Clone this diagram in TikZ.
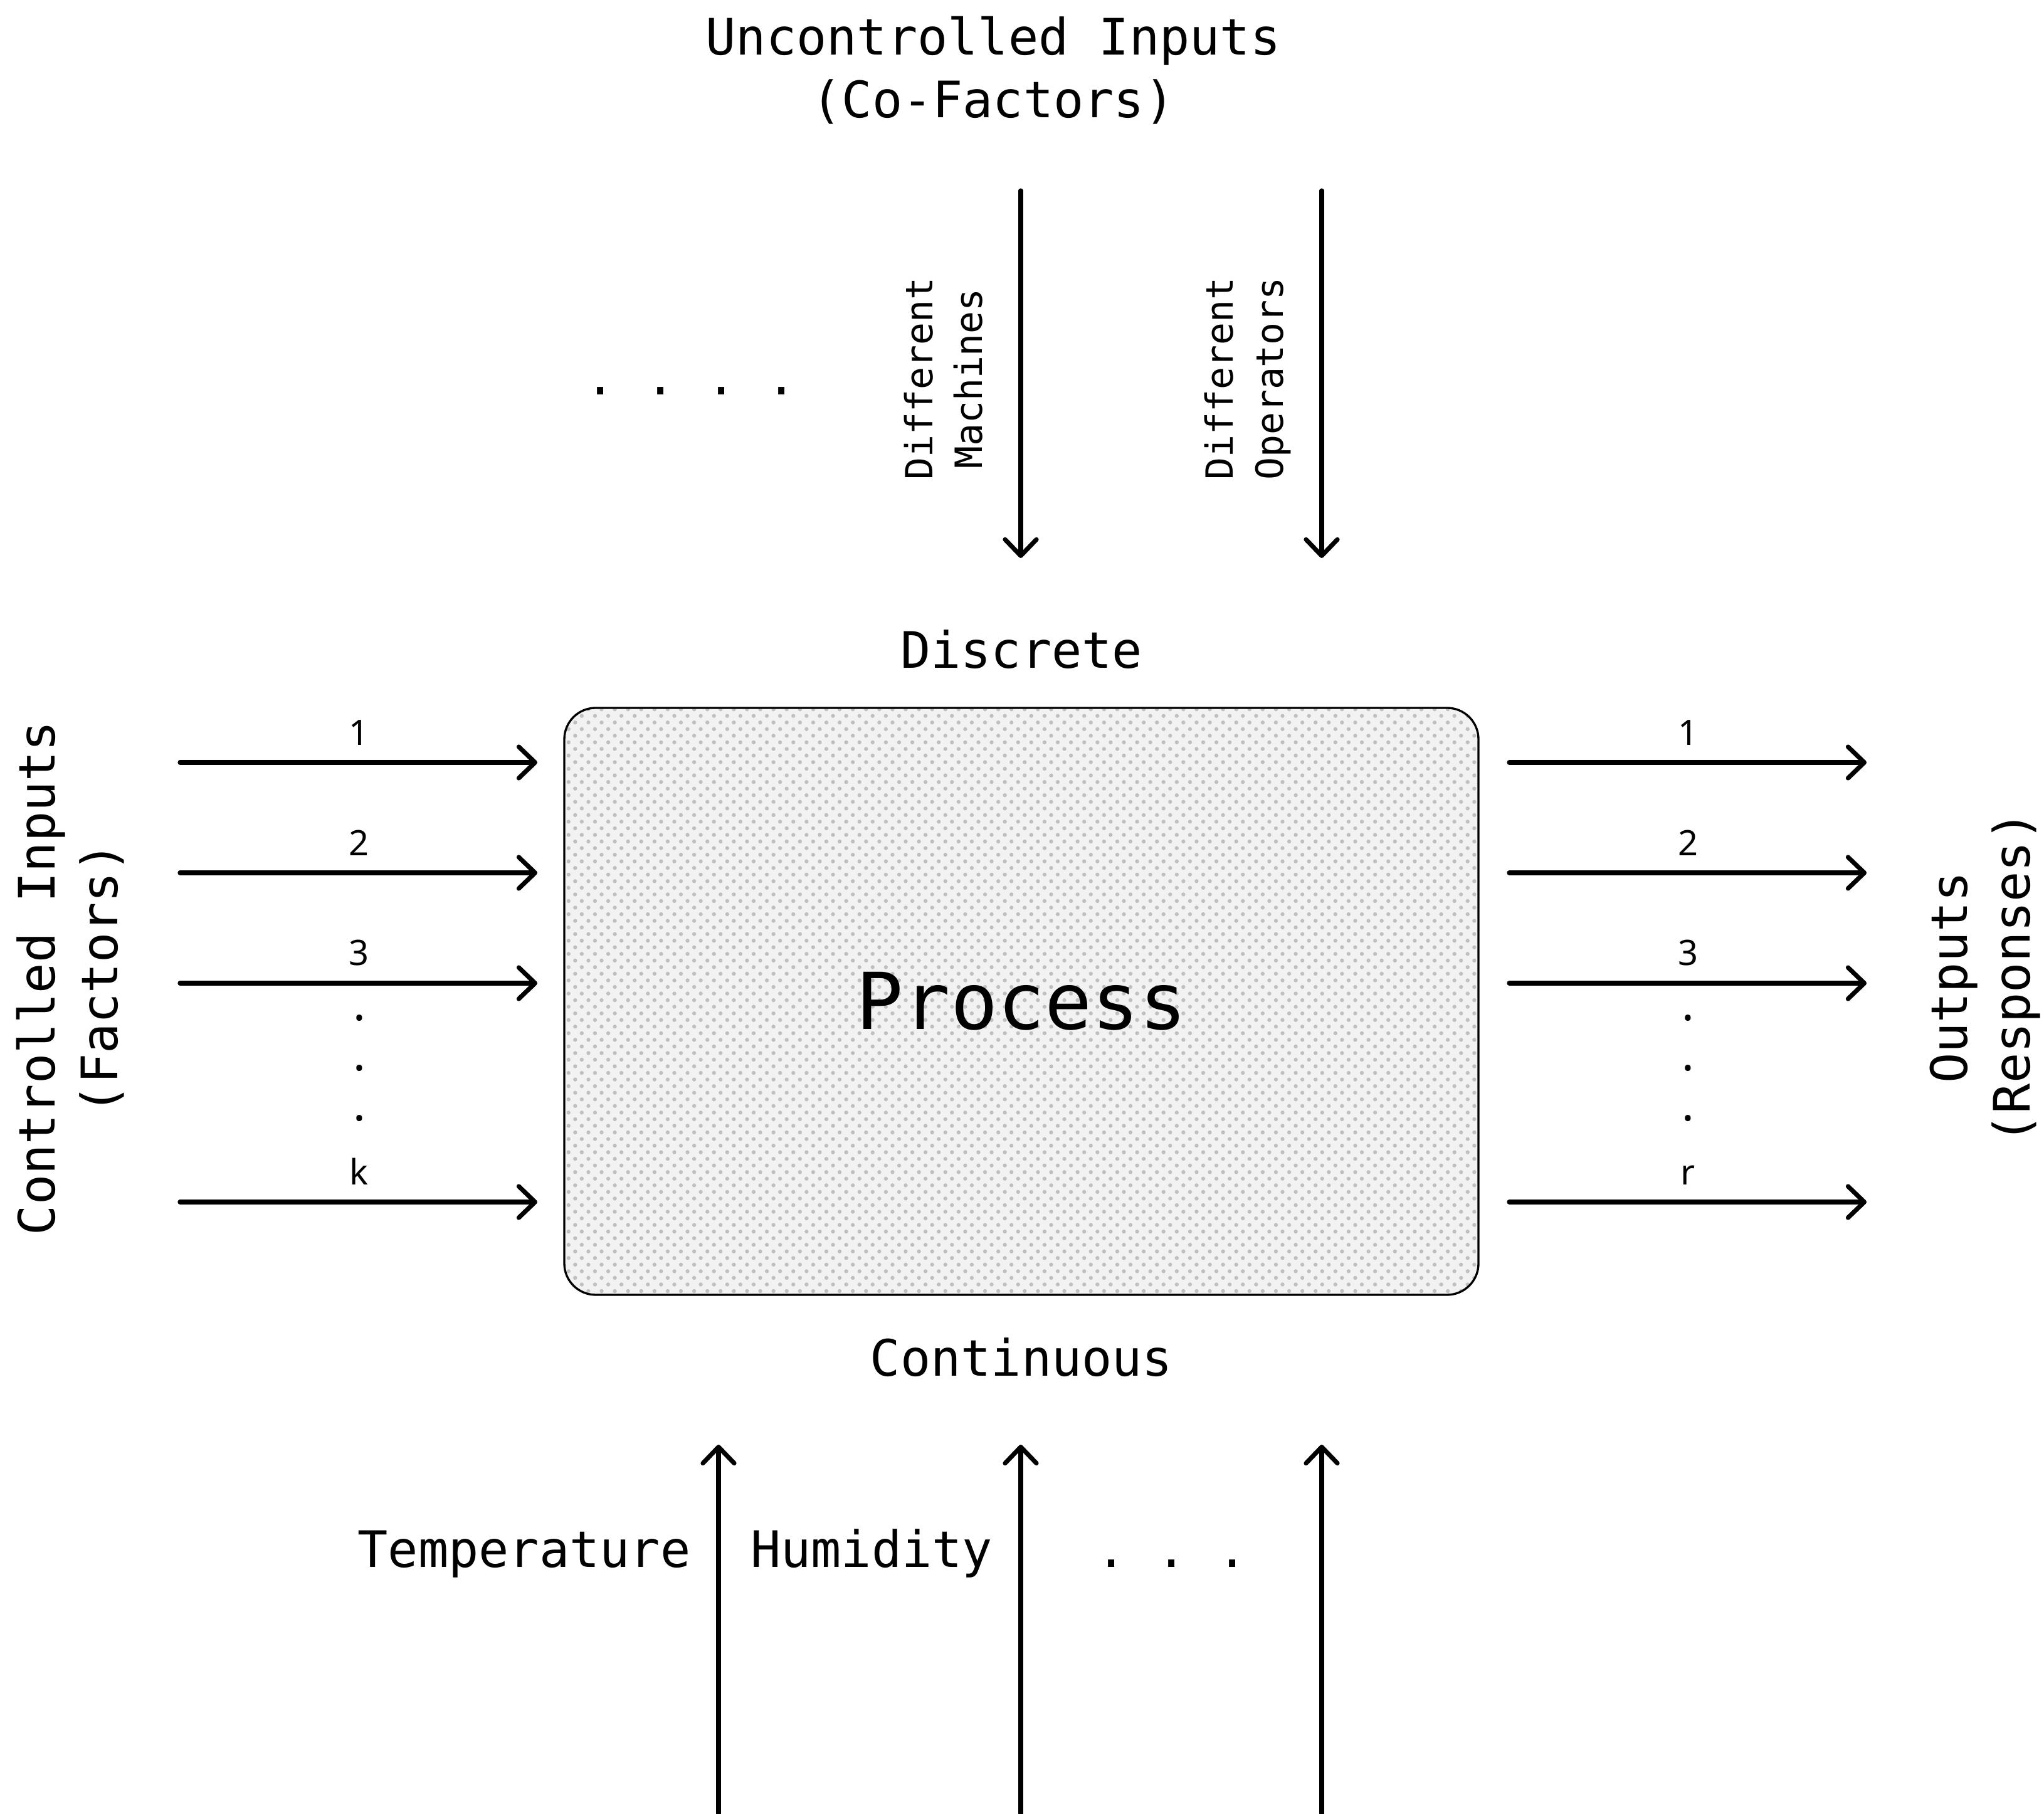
\documentclass[tikz,border=0pt]{standalone}
\usepackage{fontspec}
\setmonofont{DejaVu Sans Mono}
\newfontfamily\numfont{Noto Sans}
\usetikzlibrary{arrows.meta, positioning, patterns}

\pgfdeclarepatternformonly{procdots}{\pgfpoint{-1pt}{-1pt}}{\pgfpoint{5pt}{5pt}}{\pgfpoint{6pt}{6pt}}%
{
  \pgfpathcircle{\pgfqpoint{0pt}{0pt}}{0.9pt}
  \pgfpathcircle{\pgfqpoint{3pt}{3pt}}{0.9pt}
  \pgfusepathqfill
}

\begin{document}
\begin{tikzpicture}
  [flow/.style={line width=2.05pt, line cap=round,
                -{Straight Barb[length=2.6mm, width=5mm, round]}},
   process/.style={rectangle, rounded corners=0.5cm, draw=black, line width=0.95pt,
                   preaction={fill=gray!10},
                   preaction={pattern=procdots, pattern color=gray!50},
                   minimum width=14.58cm, minimum height=9.36cm, inner sep=0pt,
                   font=\ttfamily\fontsize{35.6}{40}\selectfont},
   heading/.style={font=\ttfamily\fontsize{22.8}{28.5}\selectfont,
                   align=center, inner sep=0pt},
   side/.style={font=\ttfamily\fontsize{17}{22.5}\selectfont,
                align=center, inner sep=0pt, rotate=90},
   num/.style={font=\numfont\fontsize{15.9}{19}\selectfont, inner sep=2pt},
   vdot/.style={font=\numfont\fontsize{21}{24}\selectfont, inner sep=0pt}]
   \useasboundingbox (0,0) rectangle (32.6,28.92);

   % the process and its two labels
   \node[process] (proc) at (16.29,12.95)              {Process};
   \node[heading] (discrete)   [above=0.6cm of proc]   {Discrete};
   \node[heading] (continuous) [below=0.66cm of proc]  {Continuous};

   % titles
   \node[heading] (uncontrolled) at (15.84,27.80) {Uncontrolled Inputs\\(Co-Factors)};
   \node[heading, rotate=90] (controlled) at (1.12,13.32) {Controlled Inputs\\(Factors)};
   \node[heading, rotate=90] (outputs)    at (31.66,13.33) {Outputs\\(Responses)};

   % discrete co-factors
   \node[side] (machines)  at (15.05,22.88) {Different\\Machines};
   \node[side] (operators) at (19.90,22.88) {Different\\Operators};
   \node[heading, anchor=base] (moredisc) at (11.02,22.62) {. . . .};
   \foreach \x [count=\i] in {16.28,21.08} {
     \coordinate (top\i)    at (\x,25.88);
     \coordinate (topend\i) at (\x,20.02);
     \draw[flow] (top\i) -- (topend\i);
   }

   % continuous co-factors
   \node[heading, anchor=base] (temperature) at (8.36,3.93)  {Temperature};
   \node[heading, anchor=base] (humidity)    at (13.90,3.93) {Humidity};
   \node[heading, anchor=base] (morecont)    at (18.69,3.93) {. . .};
   \foreach \x [count=\i] in {11.46,16.28,21.08} {
     \coordinate (bot\i)    at (\x,0);
     \coordinate (botend\i) at (\x,5.88);
     \draw[flow] (bot\i) -- (botend\i);
   }

   % factors in, responses out
   \foreach \y/\t in {16.76/1, 15.00/2, 13.24/3, 9.75/k} {
     \coordinate (in\t)    at (2.87,\y);
     \coordinate (inend\t) at (8.57,\y);
     \draw[flow] (in\t) -- node[num, above=0.17cm] {\t} (inend\t);
   }
   \foreach \y/\t in {16.76/1, 15.00/2, 13.24/3, 9.75/r} {
     \coordinate (out\t)    at (24.07,\y);
     \coordinate (outend\t) at (29.77,\y);
     \draw[flow] (out\t) -- node[num, above=0.17cm] {\t} (outend\t);
   }
   \foreach \y [count=\i] in {12.68,11.88,11.08} {
     \node[vdot] (indot\i)  at (5.73,\y)  {.};
     \node[vdot] (outdot\i) at (26.92,\y) {.};
   }
\end{tikzpicture}
\end{document}
